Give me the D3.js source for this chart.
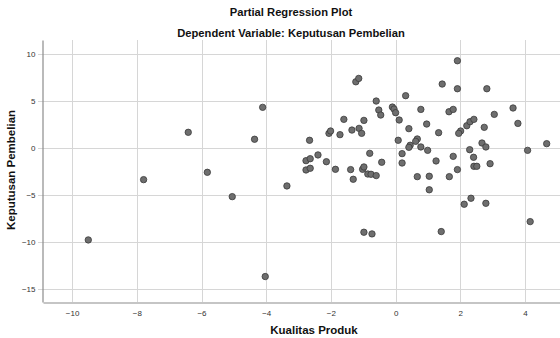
<!DOCTYPE html>
<html>
<head>
<meta charset="utf-8">
<script src="https://cdn.jsdelivr.net/npm/d3@7"></script>
<style>
  html, body { margin: 0; padding: 0; background: #fff; }
  svg { display: block; font-family: "Liberation Sans", Arial, sans-serif; }
</style>
</head>
<body>
<svg id="chart" width="560" height="338"></svg>
<script>
const chartTitle = "Partial Regression Plot";
const chartSubtitle = "Dependent Variable: Keputusan Pembelian";
const xTitle = "Kualitas Produk";
const yTitle = "Keputusan Pembelian";
const xTicks = [-10, -8, -6, -4, -2, 0, 2, 4];
const yTicks = [-15, -10, -5, 0, 5, 10];
const xDomain = [-10.9, 5.1];
const yDomain = [-16.4, 11.5];

const xValues = [
  -9.50, -7.79, -6.41, -5.82, -5.05, -4.11, -4.36, -4.03, -3.36, -2.66,
  -2.77, -2.64, -2.77, -2.64, -2.40, -2.14, -2.06, -2.01, -1.86, -1.72,
  -1.60, -1.39, -1.35, -1.23, -1.14, -1.13, -1.05, -0.98, -1.31, -1.02,
  -0.98, -0.86, -0.76, -0.60, -0.80, -0.60, -0.52, -0.46, -0.43, -0.98,
  -0.73, 1.91, 1.44, 1.91, 2.82, 0.31, -0.10, -0.05, 0.00, 0.78,
  1.65, 1.78, 0.11, 0.96, 0.41, 1.33, 2.01, 1.95, 2.20, 2.30,
  2.42, 2.74, 3.05, 3.63, 3.78, 4.67, 4.08, 0.08, 0.67, 0.62,
  0.45, 0.41, 0.78, 0.99, 0.20, 0.20, 1.25, 1.78, 1.91, 0.67,
  1.04, 1.66, 1.04, 2.29, 2.67, 2.79, 2.41, 2.42, 2.51, 2.92,
  2.12, 2.33, 2.79, 4.16, 1.41
];
const yValues = [
  -9.79, -3.37, 1.67, -2.59, -5.18, 4.33, 0.93, -13.69, -4.04, 0.82,
  -1.35, -1.14, -2.34, -2.16, -0.74, -1.46, 1.56, 1.81, -2.27, 1.42,
  3.05, -2.30, 1.91, 7.05, 7.41, 2.09, 1.56, 2.94, -3.33, -2.27,
  -2.02, -2.77, -2.80, -2.94, -0.57, 5.00, 4.04, 3.51, -1.52, -8.97,
  -9.15, 9.29, 6.81, 6.31, 6.31, 5.57, 4.36, 4.15, 3.76, 4.11,
  3.86, 4.11, 2.98, 2.55, 2.06, 1.63, 1.81, 1.56, 2.37, 2.80,
  3.05, 2.20, 3.58, 4.26, 2.62, 0.46, -0.25, 0.82, 0.96, 0.71,
  0.29, 0.07, 0.11, -0.25, -0.60, -1.60, -1.38, -0.89, -2.30, -3.05,
  -3.01, -3.05, -4.45, -0.18, 0.53, 0.11, -0.99, -1.95, -1.95, -1.67,
  -5.99, -5.35, -5.89, -7.84, -8.90
];

const svg = d3.select("#chart");
const plot = { left: 43, top: 40, right: 560.6, bottom: 302 };

const x = d3.scaleLinear().domain(xDomain).range([plot.left, plot.right]);
const y = d3.scaleLinear().domain(yDomain).range([plot.bottom, plot.top]);

// gridlines
svg.append("g").selectAll("line").data(xTicks).join("line")
  .attr("x1", d => Math.round(x(d)) + 0.5).attr("x2", d => Math.round(x(d)) + 0.5)
  .attr("y1", plot.top).attr("y2", plot.bottom)
  .attr("stroke", "#d6d6d6").attr("stroke-width", 1);
svg.append("g").selectAll("line").data(yTicks).join("line")
  .attr("x1", plot.left - 5).attr("x2", plot.right)
  .attr("y1", d => Math.round(y(d)) + 0.5).attr("y2", d => Math.round(y(d)) + 0.5)
  .attr("stroke", "#d6d6d6").attr("stroke-width", 1);

// axes
const xAxis = d3.axisBottom(x).tickValues(xTicks).tickSize(0).tickPadding(8).tickFormat(d3.format("d"));
const yAxis = d3.axisLeft(y).tickValues(yTicks).tickSize(0).tickPadding(7).tickFormat(d3.format("d"));

const gx = svg.append("g").attr("transform", `translate(0,${plot.bottom + 0.5})`).call(xAxis);
const gy = svg.append("g").attr("transform", `translate(${plot.left - 0.5},0)`).call(yAxis);
[gx, gy].forEach(g => {
  g.select(".domain").attr("stroke", "#8c8c8c").attr("stroke-width", 1.2);
  g.selectAll("text").attr("fill", "#333").style("font-size", "8px");
});

// points
svg.append("g").selectAll("circle").data(xValues.map((v, i) => [v, yValues[i]])).join("circle")
  .attr("cx", d => x(d[0])).attr("cy", d => y(d[1])).attr("r", 3.2)
  .attr("fill", "#6e6e6e").attr("stroke", "#3a3a3a").attr("stroke-width", 0.8);

// titles
svg.append("text").attr("x", 291).attr("y", 16).attr("text-anchor", "middle")
  .style("font-size", "11.2px").style("font-weight", "bold").attr("fill", "#111").text(chartTitle);
svg.append("text").attr("x", 291).attr("y", 37).attr("text-anchor", "middle")
  .style("font-size", "11.2px").style("font-weight", "bold").attr("fill", "#111").text(chartSubtitle);
svg.append("text").attr("x", 314).attr("y", 334).attr("text-anchor", "middle")
  .style("font-size", "11.5px").style("font-weight", "bold").attr("fill", "#111").text(xTitle);
svg.append("text").attr("transform", "translate(15,170) rotate(-90)").attr("text-anchor", "middle")
  .style("font-size", "11.5px").style("font-weight", "bold").attr("fill", "#111").text(yTitle);
</script>
</body>
</html>
